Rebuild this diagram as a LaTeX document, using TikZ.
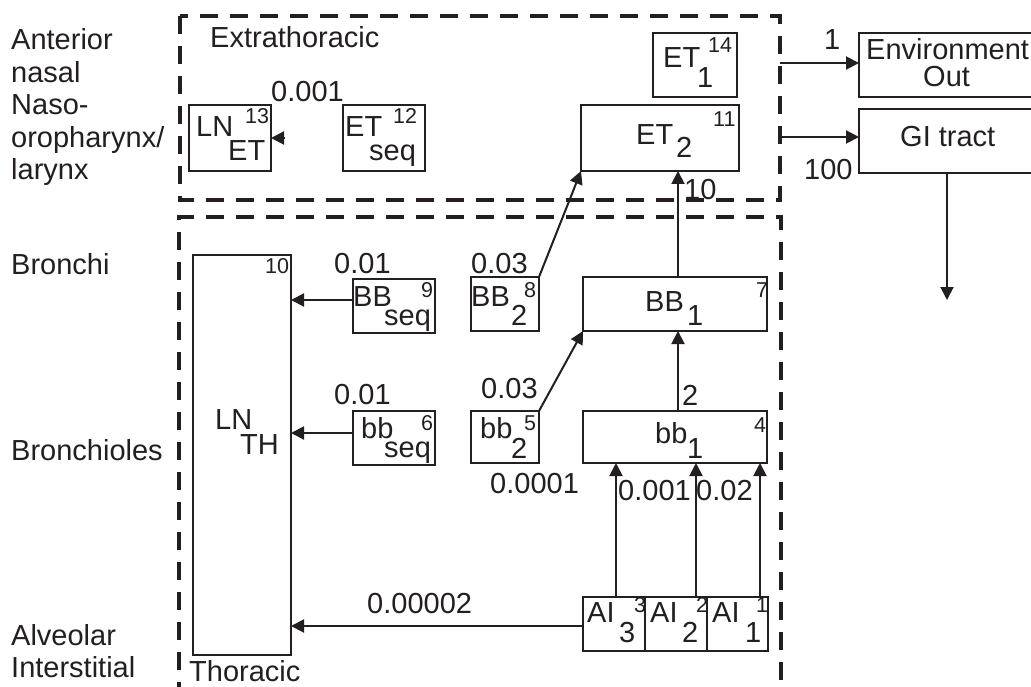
\documentclass[tikz,border=0pt]{standalone}
\usepackage{fontspec}
\setmainfont{Liberation Sans}
\usetikzlibrary{arrows.meta,calc}
\definecolor{ink}{RGB}{35,31,32}
\newcommand\mkbox[5]{\node[box,minimum width=#4pt,minimum height=#5pt] (#1) at (#2,#3) {};}
\begin{document}
\begin{tikzpicture}[x=1pt,y=-1pt,
  box/.style={draw=ink, line width=2pt, inner sep=0pt, outer sep=0pt},
  region/.style={draw=ink, line width=4pt, dash pattern=on 18pt off 12pt},
  arr/.style={draw=ink, line width=2pt, -{Triangle[length=13pt,width=13pt]}},
  t/.style={anchor=base west, inner sep=0pt, text=ink, font=\fontsize{29}{32.5}\selectfont},
  s/.style={anchor=base west, inner sep=0pt, text=ink, font=\fontsize{21.5}{24}\selectfont}]
\clip (0,0) rectangle (1031,687);
\fill[white] (0,0) rectangle (1031,687);

% dashed regions
\draw[region] (180,16) rectangle (780,200);
\draw[region] (179,700) -- (179,217) -- (781,217) -- (781,700);

% boxes
\mkbox{lnet}{230}{138}{82}{66}
\mkbox{etseq}{384}{138}{82}{66}
\mkbox{et1}{695}{65}{84}{64}
\mkbox{et2}{660}{138}{158}{66}
\mkbox{env}{949.5}{65}{181}{64}
\mkbox{gi}{949.5}{141}{181}{64}
\mkbox{lnth}{242}{455}{98}{400}
\mkbox{bbseq}{394}{306}{82}{54}
\mkbox{bb2}{505}{304}{68}{54}
\mkbox{BB1}{675}{304}{184}{54}
\mkbox{bbseqs}{394}{438}{82}{54}
\mkbox{bb2s}{505}{437}{68}{52}
\mkbox{bb1s}{675}{437}{184}{52}
\mkbox{ai3}{614}{624}{62}{54}
\mkbox{ai2}{676}{624}{62}{54}
\mkbox{ai1}{737.5}{624}{61}{54}

% left labels
\node[t] (la1) at (11,50) {Anterior};
\node[t] (la2) at (11,82.5) {nasal};
\node[t] (la3) at (11,115) {Naso-};
\node[t] (la4) at (11,147.5) {oropharynx/};
\node[t] (la5) at (11,180) {larynx};
\node[t] (lb1) at (11,275) {Bronchi};
\node[t] (lb2) at (11,460) {Bronchioles};
\node[t] (lc1) at (11,645) {Alveolar};
\node[t] (lc2) at (11,677) {Interstitial};

% region titles
\node[t] (rt1) at (210,48) {Extrathoracic};
\node[t] (rt2) at (189,681) {Thoracic};

% box texts
\node[t] (x1a) at (196,137) {LN};
\node[t] (x1b) at (228,161) {ET};
\node[s] (x1c) at (245,124) {13};
\node[t] (x2a) at (345,137) {ET};
\node[t] (x2b) at (369,161) {seq};
\node[s] (x2c) at (393,124) {12};
\node[t] (x3a) at (663,68) {ET};
\node[t] (x3b) at (697,88) {1};
\node[s] (x3c) at (708,53) {14};
\node[t] (x4a) at (636,145) {ET};
\node[t] (x4b) at (676,158) {2};
\node[s] (x4c) at (713,127) {11};
\node[t] (x5a) at (866,60) {Environment};
\node[t] (x5b) at (923,87) {Out};
\node[t] (x6a) at (900,147) {GI tract};
\node[t] (x7a) at (215,429) {LN};
\node[t] (x7b) at (240,454) {TH};
\node[s] (x7c) at (265,273) {10};
\node[t] (x8a) at (353,306) {BB};
\node[t] (x8b) at (384,325) {seq};
\node[s] (x8c) at (421,298) {9};
\node[t] (x9a) at (471,306) {BB};
\node[t] (x9b) at (511,325) {2};
\node[s] (x9c) at (524,297) {8};
\node[t] (x10a) at (645,311) {BB};
\node[t] (x10b) at (687,325) {1};
\node[s] (x10c) at (756,297) {7};
\node[t] (x11a) at (361,438) {bb};
\node[t] (x11b) at (384,457) {seq};
\node[s] (x11c) at (421,430) {6};
\node[t] (x12a) at (480,438) {bb};
\node[t] (x12b) at (511,458) {2};
\node[s] (x12c) at (524,430) {5};
\node[t] (x13a) at (655,443) {bb};
\node[t] (x13b) at (687,458) {1};
\node[s] (x13c) at (754,432) {4};
\node[t] (x14a) at (587,622) {AI};
\node[t] (x14b) at (619,642) {3};
\node[s] (x14c) at (634,612) {3};
\node[t] (x15a) at (650,622) {AI};
\node[t] (x15b) at (682,642) {2};
\node[s] (x15c) at (696,612) {2};
\node[t] (x16a) at (712,622) {AI};
\node[t] (x16b) at (745,642) {1};
\node[s] (x16c) at (756,612) {1};

% rate labels
\node[t] (r1) at (271,102) {0.001};
\node[t] (r2) at (684,200) {10};
\node[t] (r3) at (824,50) {1};
\node[t] (r4) at (804,180) {100};
\node[t] (r5) at (334,273) {0.01};
\node[t] (r6) at (471,273) {0.03};
\node[t] (r7) at (334,404) {0.01};
\node[t] (r8) at (481,398) {0.03};
\node[t] (r9) at (682,405) {2};
\node[t] (r10) at (490,493) {0.0001};
\node[t] (r11) at (618,500) {0.001};
\node[t] (r12) at (696,500) {0.02};
\node[t] (r13) at (367,613) {0.00002};

% helper coordinates
\coordinate (xa) at (678,0);
\coordinate (xb) at (616,0);
\coordinate (xc) at (696,0);
\coordinate (xd) at (760,0);
\coordinate (y1) at (0,300);
\coordinate (y2) at (0,433);
\coordinate (y3) at (0,626);
\coordinate (o1) at (780,63);
\coordinate (o2) at (780,137);
\coordinate (gd) at (947,300);

% connectors
\draw[arr] ($(lnet.east)+(13,0)$) -- (lnet.east);
\draw[arr] (bb2.north east) -- (et2.south west);
\draw[arr] (BB1.north -| xa) -- (et2.south -| xa);
\draw[arr] (bb1s.north -| xa) -- (BB1.south -| xa);
\draw[arr] (bb2s.north east) -- (BB1.south west);
\draw[arr] (bbseq.west |- y1) -- (lnth.east |- y1);
\draw[arr] (bbseqs.west |- y2) -- (lnth.east |- y2);
\draw[arr] (ai3.west |- y3) -- (lnth.east |- y3);
\draw[arr] (ai3.north -| xb) -- (bb1s.south -| xb);
\draw[arr] (ai2.north -| xc) -- (bb1s.south -| xc);
\draw[arr] (ai1.north -| xd) -- (bb1s.south -| xd);
\draw[arr] (o1) -- (env.west |- o1);
\draw[arr] (o2) -- (gi.west |- o2);
\draw[arr] (gi.south -| gd) -- (gd);
\end{tikzpicture}
\end{document}
